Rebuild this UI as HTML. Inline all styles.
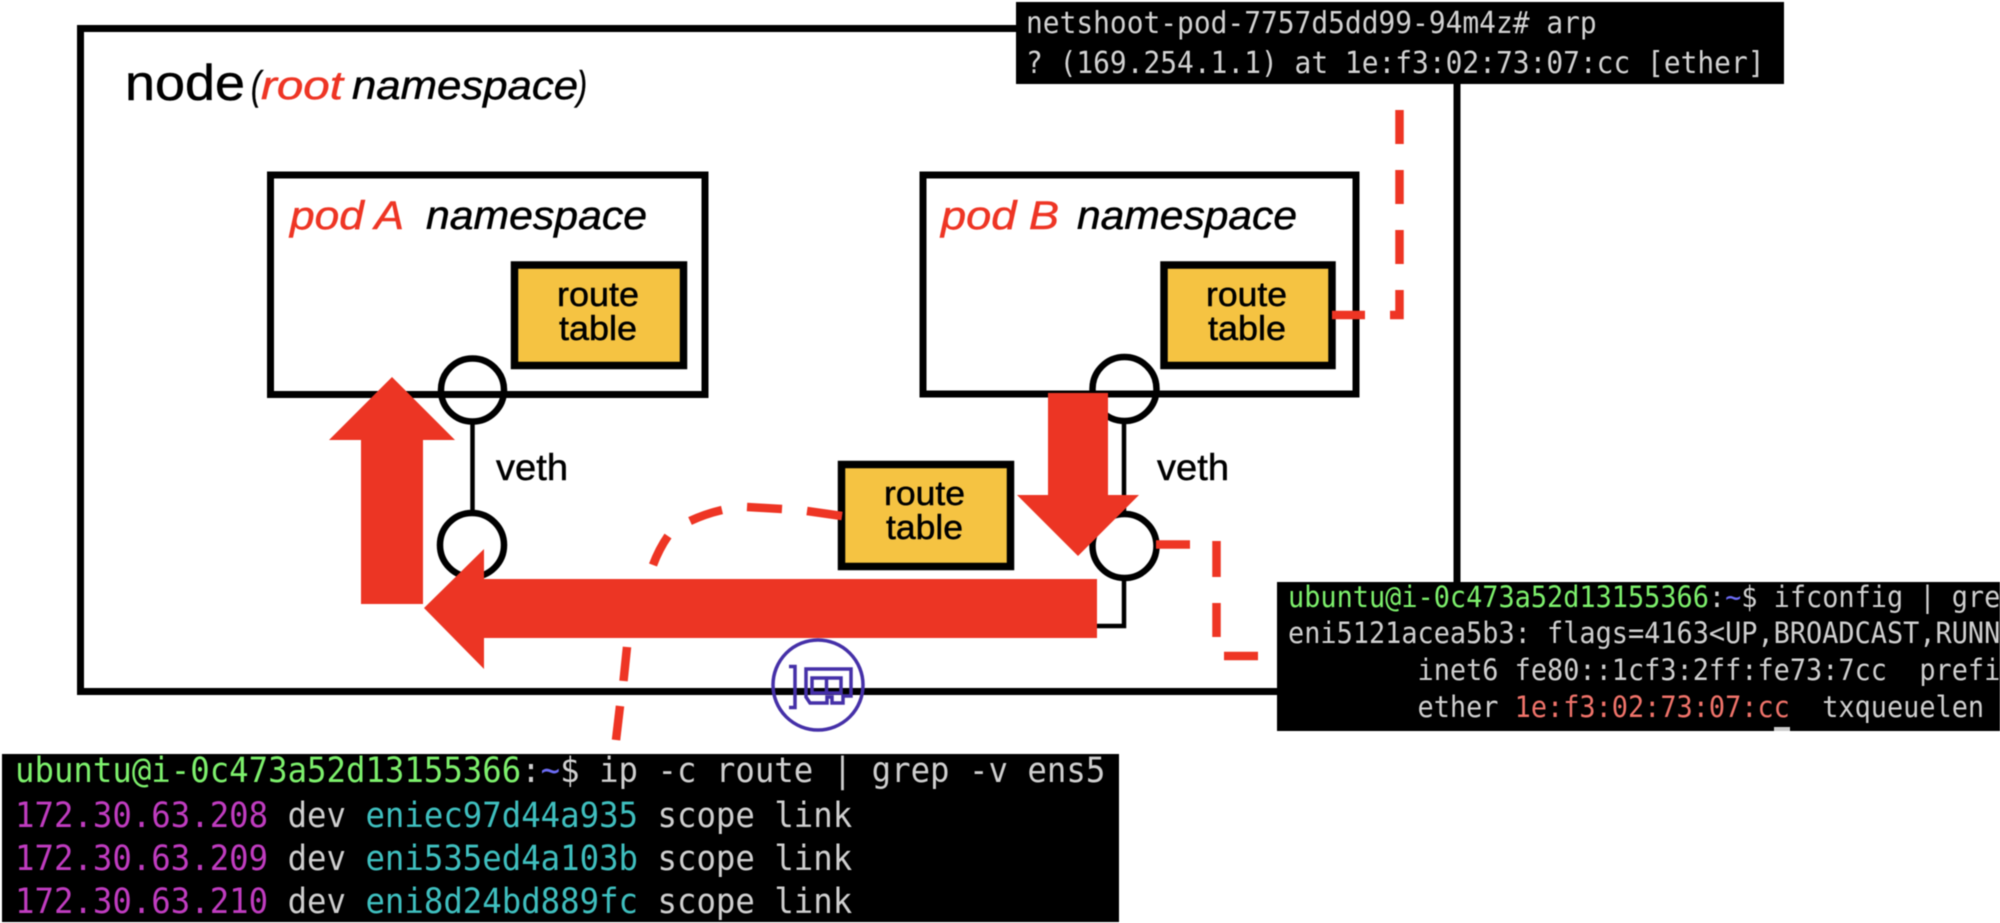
<!DOCTYPE html>
<html><head><meta charset="utf-8"><title>Diagram</title>
<style>
html,body{margin:0;padding:0;background:#fff;width:2000px;height:923px;overflow:hidden}
svg{display:block;position:absolute;left:0;top:0;filter:blur(.45px)}
.s{font-family:"Liberation Sans",sans-serif;stroke:currentColor;stroke-width:.5px}
.m{font-family:"DejaVu Sans Mono",monospace;white-space:pre}
</style></head><body>
<svg width="2000" height="923" viewBox="0 0 2000 923" xmlns="http://www.w3.org/2000/svg">
<rect width="2000" height="923" fill="#fff"/>
<!-- node box -->
<rect x="80.5" y="28.5" width="1376.5" height="663" fill="none" stroke="#000" stroke-width="7"/>
<!-- pods -->
<rect x="270.5" y="175" width="434.5" height="219.5" fill="#fff" stroke="#000" stroke-width="7"/>
<rect x="923" y="175" width="433" height="219" fill="#fff" stroke="#000" stroke-width="7"/>
<!-- route tables -->
<rect x="514.5" y="265" width="169" height="100.5" fill="#f5c342" stroke="#000" stroke-width="7.5"/>
<rect x="1164" y="265" width="168" height="100.5" fill="#f5c342" stroke="#000" stroke-width="7.5"/>
<rect x="841.5" y="464.5" width="169" height="102" fill="#f5c342" stroke="#000" stroke-width="7.5"/>
<!-- veth -->
<g fill="none" stroke="#000">
<line x1="472.5" y1="424" x2="472.5" y2="511" stroke-width="4.5"/>
<circle cx="472.5" cy="390" r="31.5" stroke-width="6.5"/>
<circle cx="472" cy="545" r="32" stroke-width="6.5"/>
<line x1="1124" y1="423" x2="1124" y2="512" stroke-width="4.5"/>
<path d="M1124 578V626H1090" stroke-width="4.5"/>
<circle cx="1124.5" cy="389" r="32" stroke-width="6.5"/>
<circle cx="1124.5" cy="546" r="32" stroke-width="6.5"/>
</g>
<!-- labels -->
<g class="s" fill="#000" style="color:#000">
<text x="125" y="100" font-size="50" textLength="120" lengthAdjust="spacingAndGlyphs">node</text>
<text x="251" y="99" font-size="40" font-style="italic" textLength="10" lengthAdjust="spacingAndGlyphs">(</text>
<text x="261" y="99" font-size="40" font-style="italic" fill="#ee3524" style="color:#ee3524" textLength="82" lengthAdjust="spacingAndGlyphs">root</text>
<text x="352" y="99" font-size="40" font-style="italic" textLength="226" lengthAdjust="spacingAndGlyphs">namespace</text>
<text x="577" y="99" font-size="40" font-style="italic" textLength="10" lengthAdjust="spacingAndGlyphs">)</text>
<text x="290" y="229" font-size="40" font-style="italic" fill="#ee3524" style="color:#ee3524" textLength="114" lengthAdjust="spacingAndGlyphs">pod A</text>
<text x="426" y="229" font-size="40" font-style="italic" textLength="221" lengthAdjust="spacingAndGlyphs">namespace</text>
<text x="941" y="229" font-size="40" font-style="italic" fill="#ee3524" style="color:#ee3524" textLength="118" lengthAdjust="spacingAndGlyphs">pod B</text>
<text x="1077" y="229" font-size="40" font-style="italic" textLength="220" lengthAdjust="spacingAndGlyphs">namespace</text>
<text x="557" y="306" font-size="34" textLength="82" lengthAdjust="spacingAndGlyphs">route</text>
<text x="559" y="340" font-size="34" textLength="78" lengthAdjust="spacingAndGlyphs">table</text>
<text x="1206" y="306" font-size="34" textLength="81" lengthAdjust="spacingAndGlyphs">route</text>
<text x="1208" y="340" font-size="34" textLength="78" lengthAdjust="spacingAndGlyphs">table</text>
<text x="884" y="505" font-size="34" textLength="81" lengthAdjust="spacingAndGlyphs">route</text>
<text x="886" y="539" font-size="34" textLength="77" lengthAdjust="spacingAndGlyphs">table</text>
<text x="496" y="480" font-size="37" textLength="72" lengthAdjust="spacingAndGlyphs">veth</text>
<text x="1157" y="480" font-size="37" textLength="72" lengthAdjust="spacingAndGlyphs">veth</text>
</g>
<!-- dashed red -->
<g fill="none" stroke="#ee3524" stroke-width="8.5">
<line x1="1399.5" y1="110" x2="1399.5" y2="144"/>
<line x1="1399.5" y1="170" x2="1399.5" y2="204"/>
<line x1="1399.5" y1="230" x2="1399.5" y2="264"/>
<path d="M1399.5 290V315H1390"/>
<line x1="1332" y1="315" x2="1365" y2="315"/>
<line x1="1156" y1="544.5" x2="1190" y2="544.5"/>
<line x1="1216.5" y1="541" x2="1216.5" y2="577"/>
<line x1="1216.5" y1="603" x2="1216.5" y2="637"/>
<line x1="1224" y1="656" x2="1258" y2="656"/>
<line x1="627" y1="647" x2="623.5" y2="681"/>
<line x1="620" y1="706" x2="616" y2="740"/>
<path d="M653 565Q659 549 668 536"/>
<path d="M690 521Q705 514 722 510"/>
<line x1="747" y1="507" x2="782" y2="509"/>
<line x1="807" y1="511" x2="842" y2="516"/>
</g>
<!-- big arrows -->
<g fill="#ec3524">
<polygon points="392,377 455,440 423,440 423,604 361,604 361,440 329,440"/>
<polygon points="1048,393 1108,393 1108,495 1139,495 1078,556 1017,495 1048,495"/>
<polygon points="424,608 484,549 484,579 1097,579 1097,638 484,638 484,669"/>
</g>
<!-- NIC icon -->
<g fill="none" stroke="#4530a8">
<circle cx="818" cy="685" r="45" stroke-width="3.5"/>
<path d="M789 666.5H795V707.5H789" stroke-width="3.5"/>
<path d="M806 669H851V696H843V703H832V697H827V703H810L806 697Z" stroke-width="3.5"/>
<rect x="812" y="678" width="29" height="15" stroke-width="3.5"/>
<line x1="826.5" y1="678" x2="826.5" y2="693" stroke-width="3.5"/>
</g>
<!-- terminal top -->
<rect x="1016" y="2" width="768" height="82" fill="#000"/>
<g class="m" font-size="27.9" fill="#d2d2d2">
<text transform="translate(1026 33) scale(1 1.08)" xml:space="preserve">netshoot-pod-7757d5dd99-94m4z# arp</text>
<text transform="translate(1026 73) scale(1 1.08)" xml:space="preserve">? (169.254.1.1) at 1e:f3:02:73:07:cc [ether]</text>
</g>
<!-- terminal right -->
<rect x="1277" y="582" width="723" height="149" fill="#000"/>
<g class="m" font-size="26.9" fill="#cfcfcf">
<text transform="translate(1288 607) scale(1 1.08)" xml:space="preserve"><tspan fill="#7df06c">ubuntu@i-0c473a52d13155366</tspan>:<tspan fill="#6c6cf5">~</tspan>$ ifconfig | gre</text>
<text transform="translate(1288 643) scale(1 1.08)" xml:space="preserve">eni5121acea5b3: flags=4163&lt;UP,BROADCAST,RUNN</text>
<text transform="translate(1288 680) scale(1 1.08)" xml:space="preserve">        inet6 fe80::1cf3:2ff:fe73:7cc  prefi</text>
<text transform="translate(1288 717) scale(1 1.08)" xml:space="preserve">        ether <tspan fill="#f0736a">1e:f3:02:73:07:cc</tspan>  txqueuelen</text>
</g>
<rect x="1774" y="727" width="16" height="4" fill="#ccc"/>
<!-- terminal bottom-left -->
<rect x="2" y="754" width="1117" height="168" fill="#000"/>
<g class="m" font-size="32.35" fill="#cfcfcf">
<text transform="translate(15 782) scale(1 1.08)" xml:space="preserve"><tspan fill="#7df06c">ubuntu@i-0c473a52d13155366</tspan>:<tspan fill="#6c6cf5">~</tspan>$ ip -c route | grep -v ens5</text>
<text transform="translate(15 827) scale(1 1.08)" xml:space="preserve"><tspan fill="#c03cc0">172.30.63.208</tspan> dev <tspan fill="#3fbfbf">eniec97d44a935</tspan> scope link</text>
<text transform="translate(15 870) scale(1 1.08)" xml:space="preserve"><tspan fill="#c03cc0">172.30.63.209</tspan> dev <tspan fill="#3fbfbf">eni535ed4a103b</tspan> scope link</text>
<text transform="translate(15 913) scale(1 1.08)" xml:space="preserve"><tspan fill="#c03cc0">172.30.63.210</tspan> dev <tspan fill="#3fbfbf">eni8d24bd889fc</tspan> scope link</text>
</g>
</svg>
</body></html>
